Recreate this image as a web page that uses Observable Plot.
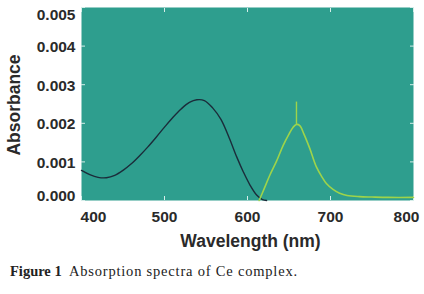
<!DOCTYPE html>
<html>
<head>
<meta charset="utf-8">
<script src="https://cdn.jsdelivr.net/npm/d3@7"></script>
<script src="https://cdn.jsdelivr.net/npm/@observablehq/plot@0.6"></script>
<style>
  body { margin: 0; background: #fff; }
  #caption { font-family: "Liberation Serif", "DejaVu Serif", serif; font-size: 14.5px; color: #222; margin: 11px 0 0 10px; }
  #caption span { letter-spacing: 0.8px; }
</style>
</head>
<body>
<div id="chart"></div>
<div id="caption"><b>Figure 1</b>&nbsp; <span>Absorption spectra of Ce complex.</span></div>
<script>
const blackWavelength = [400, 410, 420, 430, 440, 450, 460, 470, 480, 490, 500, 510, 520, 530, 539, 548, 558, 568, 578, 587, 595, 603, 611, 618, 623];
const blackAbsorbance = [0.00078, 0.00067, 0.0006, 0.00059, 0.00065, 0.00078, 0.00095, 0.00116, 0.00139, 0.00164, 0.0019, 0.00215, 0.00237, 0.00254, 0.00261, 0.00259, 0.0024, 0.0021, 0.00162, 0.00113, 0.00074, 0.0004, 0.00014, 0.00002, 0];
const greenWavelength = [614, 620, 627, 635, 643, 650, 655, 659, 663, 668, 675, 683, 690, 695, 703, 711, 720, 735, 750, 770, 800];
const greenAbsorbance = [0, 0.0003, 0.00066, 0.00102, 0.00143, 0.00172, 0.0019, 0.00197, 0.00194, 0.00172, 0.00135, 0.00087, 0.0006, 0.00044, 0.00029, 0.00019, 0.00013, 0.0001, 0.00009, 0.00008, 0.00008];
const spikeWavelength = [659];
const spikeLow = [0.00197];
const spikeHigh = [0.00255];
const xTicks = [400, 500, 600, 700, 800];
const yTicks = [0, 0.001, 0.002, 0.003, 0.004, 0.005];

const black = blackWavelength.map((w, i) => ({w, a: blackAbsorbance[i]}));
const green = greenWavelength.map((w, i) => ({w, a: greenAbsorbance[i]}));
const spike = spikeWavelength.map((w, i) => ({w, y1: spikeLow[i], y2: spikeHigh[i]}));

const xFirst = xTicks.slice(0, 1), xMid = xTicks.slice(1, -1), xLast = xTicks.slice(-1);
const yFirst = yTicks.slice(0, 1), yMid = yTicks.slice(1, -1), yLast = yTicks.slice(-1);
const fmt = d3.format(".3f");
const tickColor = "#d6eeea";
const labelColor = "#2a2a2a";
const chart = Plot.plot({
  width: 424,
  height: 252,
  marginTop: 7,
  marginBottom: 52,
  marginLeft: 81,
  marginRight: 11,
  style: {fontFamily: "'Liberation Sans', Arial, sans-serif", fontSize: "15.5px", fontWeight: "bold", color: labelColor, background: "#fff"},
  x: {domain: [400, 800]},
  y: {domain: [0, 0.005]},
  marks: [
    Plot.frame({fill: "#2e9e8e", stroke: null}),
    Plot.axisX(xMid, {anchor: "bottom", tickSize: 0, tickPadding: 10, label: null}),
    Plot.axisX(xFirst, {anchor: "bottom", tickSize: 0, tickPadding: 10, dx: 12, label: null}),
    Plot.axisX(xLast, {anchor: "bottom", tickSize: 0, tickPadding: 10, dx: -7, label: null}),
    Plot.axisY(yMid, {anchor: "left", tickSize: 0, tickPadding: 6, dy: 1, tickFormat: fmt, label: null}),
    Plot.axisY(yFirst, {anchor: "left", tickSize: 0, tickPadding: 6, dy: -4.5, tickFormat: fmt, label: null}),
    Plot.axisY(yLast, {anchor: "left", tickSize: 0, tickPadding: 6, dy: 8, tickFormat: fmt, label: null}),
    Plot.axisX(xTicks, {anchor: "bottom", tickSize: -4, stroke: tickColor, tickFormat: () => "", label: null}),
    Plot.axisX(xTicks, {anchor: "top", tickSize: -4, stroke: tickColor, tickFormat: () => "", label: null}),
    Plot.axisY(yTicks, {anchor: "left", tickSize: -4, stroke: tickColor, tickFormat: () => "", label: null}),
    Plot.axisY(yTicks, {anchor: "right", tickSize: -4, stroke: tickColor, tickFormat: () => "", label: null}),
    Plot.line(black, {x: "w", y: "a", stroke: "#1b2c3a", strokeWidth: 1.4, curve: "catmull-rom"}),
    Plot.line(green, {x: "w", y: "a", stroke: "#9ed44a", strokeWidth: 1.6, curve: "catmull-rom"}),
    Plot.ruleX(spike, {x: "w", y1: "y1", y2: "y2", stroke: "#9ed44a", strokeWidth: 1.4}),
    Plot.text(["Wavelength (nm)"], {frameAnchor: "bottom", lineAnchor: "middle", textAnchor: "middle", dx: 3, dy: 41, fontSize: 17.5, fontWeight: "bold", fill: labelColor}),
    Plot.text(["Absorbance"], {frameAnchor: "left", lineAnchor: "middle", textAnchor: "middle", dx: -67, dy: 1, rotate: -90, fontSize: 17.5, fontWeight: "bold", fill: labelColor})
  ]
});
document.getElementById("chart").appendChild(chart);
</script>
</body>
</html>
